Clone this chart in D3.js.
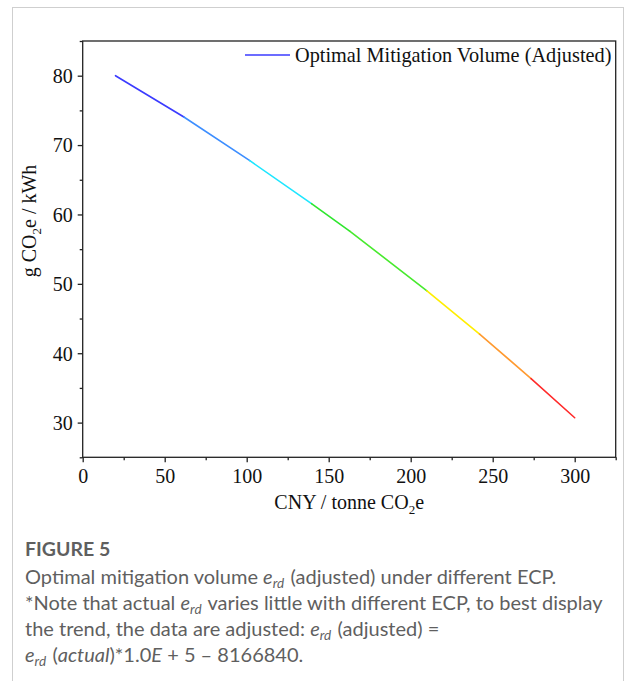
<!DOCTYPE html>
<html>
<head>
<meta charset="utf-8">
<script src="https://cdn.jsdelivr.net/npm/d3@7"></script>
<style>
  html, body { margin: 0; padding: 0; background: #fff; }
  svg { display: block; }
</style>
</head>
<body>
<svg id="chart" width="625" height="681"></svg>
<script>
// ---- data ----
const ecpValues = [20, 61.7, 101.9, 139.5, 162.8, 209.9, 242, 273.4, 300];     // CNY / tonne CO2e
const erdAdjusted = [80.0, 74.05, 67.75, 61.55, 57.6, 49.0, 42.75, 36.35, 30.7]; // g CO2e / kWh (adjusted)
const segmentColors = ["#3b3bff", "#3d8eff", "#1ee6ff", "#2ee62e", "#48ea2e", "#ffee00", "#ff9a30", "#ff2a2a"];
const xTicks = [0, 50, 100, 150, 200, 250, 300];
const yTicks = [30, 40, 50, 60, 70, 80];
const xMinor = [25, 75, 125, 175, 225, 275, 325];
const yMinor = [25, 35, 45, 55, 65, 75, 85];
const legendLabel = "Optimal Mitigation Volume (Adjusted)";

const svg = d3.select("#chart");
const L = 82.7, R = 615.7, T = 41, B = 457.3;
const x = d3.scaleLinear().domain([0, 325]).range([L, R]);
const y = d3.scaleLinear().domain([25, 85]).range([B, T]);
const serif = "'Liberation Serif', 'Times New Roman', serif";
const axisColor = "#222";

// outer frame
svg.append("rect").attr("x", 12.5).attr("y", 7.5).attr("width", 611).attr("height", 700)
  .attr("fill", "none").attr("stroke", "#cfcfcf").attr("stroke-width", 1);

// plot box
svg.append("rect").attr("x", L).attr("y", T).attr("width", R - L).attr("height", B - T)
  .attr("fill", "none").attr("stroke", axisColor).attr("stroke-width", 1.3);

// axes
const xAxis = d3.axisBottom(x).tickValues(xTicks).tickSize(5).tickPadding(6).tickFormat(d3.format("d"));
const gx = svg.append("g").attr("transform", `translate(0,${B})`).call(xAxis);
const xMinorAxis = d3.axisBottom(x).tickValues(xMinor).tickSize(3).tickFormat("");
const gxm = svg.append("g").attr("transform", `translate(0,${B})`).call(xMinorAxis);

const yAxis = d3.axisLeft(y).tickValues(yTicks).tickSize(5).tickPadding(5).tickFormat(d3.format("d"));
const gy = svg.append("g").attr("transform", `translate(${L},0)`).call(yAxis);
const yMinorAxis = d3.axisLeft(y).tickValues(yMinor).tickSize(3).tickFormat("");
const gym = svg.append("g").attr("transform", `translate(${L},0)`).call(yMinorAxis);

[gx, gxm, gy, gym].forEach(g => {
  g.select(".domain").remove();
  g.selectAll("line").attr("stroke", axisColor).attr("stroke-width", 1.3);
  g.selectAll("text").attr("font-family", serif).attr("font-size", 20).attr("fill", "#111");
});
gx.selectAll("text").attr("dy", "0.72em");
gy.selectAll("text").attr("dy", "0.34em");

// axis titles
const xt = svg.append("text").attr("x", (L + R) / 2).attr("y", 509)
  .attr("text-anchor", "middle").attr("font-family", serif).attr("font-size", 20).attr("fill", "#111");
xt.append("tspan").text("CNY / tonne CO");
xt.append("tspan").text("2").attr("font-size", 13).attr("dy", 5);
xt.append("tspan").text("e").attr("dy", -5);

const yt = svg.append("text").attr("transform", `translate(36,221) rotate(-90)`)
  .attr("text-anchor", "middle").attr("font-family", serif).attr("font-size", 20).attr("fill", "#111");
yt.append("tspan").text("g CO");
yt.append("tspan").text("2").attr("font-size", 13).attr("dy", 5);
yt.append("tspan").text("e / kWh").attr("dy", -5);

// colored line
const pts = ecpValues.map((v, i) => [v, erdAdjusted[i]]);
const segs = d3.pairs(pts);
svg.append("g").selectAll("line").data(segs).join("line")
  .attr("x1", d => x(d[0][0])).attr("y1", d => y(d[0][1]))
  .attr("x2", d => x(d[1][0])).attr("y2", d => y(d[1][1]))
  .attr("stroke", (d, i) => segmentColors[i]).attr("stroke-width", 1.6)
  .attr("stroke-linecap", "round");

// legend
svg.append("line").attr("x1", 245).attr("x2", 290).attr("y1", 55).attr("y2", 55)
  .attr("stroke", "#3b3bff").attr("stroke-width", 1.6);
svg.append("text").attr("x", 295).attr("y", 62).attr("font-family", serif).attr("font-size", 20.3)
  .attr("fill", "#111").text(legendLabel);

// caption
const sans = "Lato, 'Open Sans', sans-serif";
const capColor = "#5f5f5f";
const capSize = 20;
svg.append("text").attr("x", 25).attr("y", 556).attr("font-family", sans).attr("font-size", 19.5)
  .attr("font-weight", 700).attr("fill", capColor).text("FIGURE 5");

function erd(t) {
  t.append("tspan").text("e").attr("font-style", "italic");
  t.append("tspan").text("rd").attr("font-style", "italic").attr("font-size", 13.5).attr("dy", 4);
  t.append("tspan").text("\u200A").attr("dy", -4);
}
function capLine(yPos) {
  return svg.append("text").attr("x", 25).attr("y", yPos).attr("font-family", sans)
    .attr("font-size", capSize).attr("fill", capColor);
}
const cap1 = capLine(584);
cap1.append("tspan").text("Optimal mitigation volume ");
erd(cap1);
cap1.append("tspan").text(" (adjusted) under different ECP.");

const cap2 = capLine(610);
cap2.append("tspan").text("*Note that actual ");
erd(cap2);
cap2.append("tspan").text(" varies little with different ECP, to best display");

const cap3 = capLine(636);
cap3.append("tspan").text("the trend, the data are adjusted: ");
erd(cap3);
cap3.append("tspan").text(" (adjusted) =");

const cap4 = capLine(662);
erd(cap4);
cap4.append("tspan").text(" (");
cap4.append("tspan").text("actual").attr("font-style", "italic");
cap4.append("tspan").text(")*1.0");
cap4.append("tspan").text("E").attr("font-style", "italic");
cap4.append("tspan").text(" + 5 \u2013 8166840.");
</script>
</body>
</html>
